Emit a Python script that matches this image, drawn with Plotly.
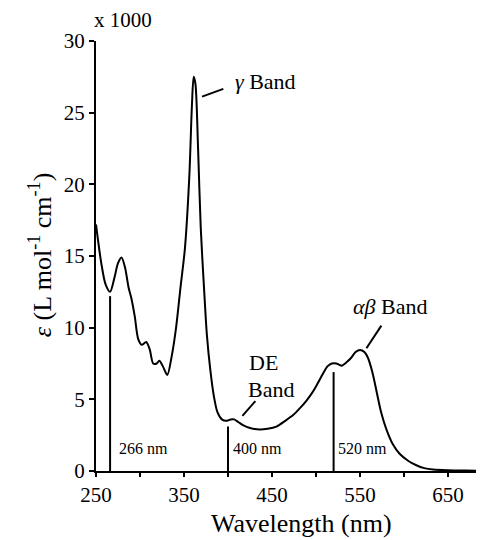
import plotly.graph_objects as go

# Spectrum (x 1000 L mol^-1 cm^-1)
wavelength = [250, 256, 261, 266, 271, 275, 279, 283, 287, 290, 294, 298, 302, 307, 311, 315,
              319, 322, 326, 331, 336, 341, 346, 351, 356, 359, 361, 363, 366, 369, 373, 376,
              380, 384, 388, 393, 398, 403, 407, 412, 417, 425, 436, 445, 455, 465, 474, 482,
              489, 495, 500, 508, 513, 518, 523, 529, 535, 540, 545, 550, 555, 559, 564, 569,
              574, 580, 587, 595, 605, 614, 623, 633, 650, 670, 700]
epsilon = [17.2, 14.5, 13.0, 12.5, 13.5, 14.5, 14.9, 14.2, 12.8, 12.1, 10.8, 9.2, 8.8, 9.0, 8.5, 7.5,
           7.5, 7.7, 7.3, 6.7, 8.0, 10.0, 12.8, 15.5, 20.5, 25.5, 27.5, 27.0, 22.5, 17.0, 12.5, 9.5,
           7.0, 5.2, 4.1, 3.6, 3.5, 3.6, 3.6, 3.4, 3.2, 3.0, 2.9, 2.95, 3.1, 3.5, 3.9, 4.4,
           4.9, 5.4, 5.9, 6.8, 7.3, 7.5, 7.5, 7.35, 7.6, 7.9, 8.3, 8.45, 8.3, 7.9, 6.9, 5.5,
           4.1, 2.9, 1.9, 1.2, 0.7, 0.4, 0.2, 0.1, 0.05, 0.03, 0.02]

marker_wl = [266, 400, 520]
marker_top = [12.2, 3.1, 6.9]
marker_labels = ["266 nm", "400 nm", "520 nm"]

x_ticks = [250, 350, 450, 550, 650]
y_ticks = [0, 5, 10, 15, 20, 25, 30]

FONT = "Liberation Serif"

fig = go.Figure()
fig.add_trace(go.Scatter(x=wavelength, y=epsilon, mode="lines",
                         line=dict(color="black", width=2, shape="spline", smoothing=0.8),
                         hoverinfo="skip", showlegend=False))

mx, my = [], []
for w, t in zip(marker_wl, marker_top):
    mx += [w, w, None]
    my += [0, t, None]
fig.add_trace(go.Scatter(x=mx, y=my, mode="lines", line=dict(color="black", width=2),
                         hoverinfo="skip", showlegend=False))

annotations = []
offsets = [7, 3, 2]
for w, lab, off in zip(marker_wl, marker_labels, offsets):
    annotations.append(dict(x=w + off / 0.88, y=1.58, text=lab, showarrow=False, xanchor="left",
                            yanchor="middle", font=dict(size=16, family=FONT, color="black")))

band_font = dict(size=22, family=FONT, color="black")
annotations += [
    dict(x=405.5, y=27.2, text="<i>γ</i> Band", showarrow=False, xanchor="left", yanchor="middle", font=band_font),
    dict(x=421.5, y=7.54, text="DE", showarrow=False, xanchor="left", yanchor="middle", font=band_font),
    dict(x=420.5, y=5.72, text="Band", showarrow=False, xanchor="left", yanchor="middle", font=band_font),
    dict(x=540.2, y=11.47, text="<i>αβ</i> Band", showarrow=False, xanchor="left", yanchor="middle", font=band_font),
    dict(x=-0.0101, y=1.049, xref="paper", yref="paper", text="x 1000", showarrow=False,
         xanchor="left", yanchor="middle", font=dict(size=21, family=FONT, color="black")),
    dict(x=-0.1414, y=0.502, xref="paper", yref="paper", textangle=-90,
         text="<i>ε</i> (L mol<sup>-1</sup> cm<sup>-1</sup>)", showarrow=False,
         xanchor="center", yanchor="middle", font=dict(size=26, family=FONT, color="black")),
    dict(x=0.5177, y=-0.123, xref="paper", yref="paper", text="Wavelength (nm)", showarrow=False,
         xanchor="center", yanchor="middle", font=dict(size=26, family=FONT, color="black")),
]

shapes = [
    dict(type="line", x0=370.5, y0=26.12, x1=394.7, y1=26.66, line=dict(color="black", width=2)),
    dict(type="line", x0=416.4, y0=3.84, x1=431.1, y1=4.88, line=dict(color="black", width=2)),
    dict(type="line", x0=557.3, y0=8.56, x1=574.3, y1=10.14, line=dict(color="black", width=2)),
]

# page body has an 8px margin: offset margins so the plot area lands where the reference has it
fig.update_layout(
    width=484, height=540,
    margin=dict(l=88, r=0, t=33, b=77),
    plot_bgcolor="white", paper_bgcolor="white",
    font=dict(family=FONT, color="black"),
    annotations=annotations, shapes=shapes,
    xaxis=dict(range=[250, 700], tickvals=x_ticks, ticks="outside", ticklen=4, tickwidth=1.5,
               tickcolor="black", showline=True, linecolor="black", linewidth=2, showgrid=False,
               zeroline=False, tickfont=dict(size=21, family=FONT, color="black"),
               minor=dict(tickvals=[300, 400, 500, 600], ticks="outside", ticklen=4, tickwidth=1.5,
                          tickcolor="black")),
    yaxis=dict(range=[0, 30], tickvals=y_ticks, ticks="outside", ticklen=5, tickwidth=1.5,
               tickcolor="black", showline=True, linecolor="black", linewidth=2, showgrid=False,
               zeroline=False, tickfont=dict(size=21, family=FONT, color="black")),
)

fig.write_html("out.html")
